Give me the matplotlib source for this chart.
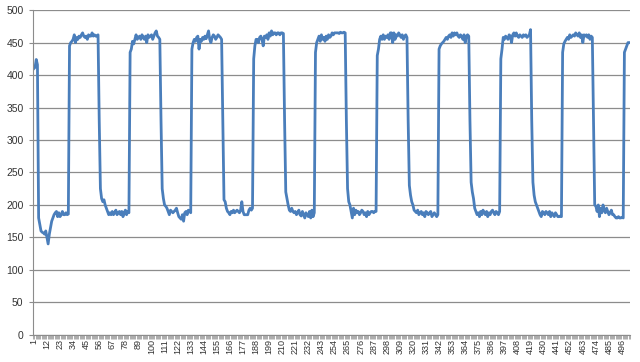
import numpy as np
import matplotlib.pyplot as plt

# readings, one per sample
values = [
    410, 412, 424, 416,
    # low 1
    180, 170, 160, 158, 157, 155, 160, 150, 140, 155, 165, 175, 180, 185, 188, 190,
    182, 188, 182, 185, 190, 185, 185, 188, 185, 186,
    # high 1
    445, 450, 452, 455, 462, 450, 458, 455, 460, 458, 462, 465, 460, 458, 460, 455,
    462, 460, 460, 465, 460, 462, 460, 460, 462,
    # low 2
    330, 225, 210, 205, 208, 200, 195, 190, 185, 188, 185, 190, 185, 188, 192, 185,
    188, 190, 185, 190, 182, 188, 192, 185, 190, 188,
    # high 2
    435, 440, 452, 448, 455, 462, 455, 458, 460, 455, 462, 458, 455, 460, 450, 462,
    458, 460, 462, 455, 460, 465, 468, 460, 458, 455,
    # low 3
    330, 225, 210, 200, 198, 195, 190, 185, 192, 190, 188, 190, 192, 195, 188, 182,
    180, 178, 185, 175, 188, 190, 185, 192, 190, 188,
    # high 3
    440, 450, 455, 452, 458, 460, 440, 455, 452, 458, 455, 460, 456, 462, 468, 455,
    450, 458, 462, 460, 455, 458, 462, 460, 458, 455,
    # low 4
    330, 208, 205, 195, 190, 188, 185, 190, 188, 192, 188, 190, 192, 190, 188, 192,
    205, 190, 185, 185, 185, 185, 192, 195, 192, 195,
    # high 4
    425, 445, 455, 455, 450, 458, 460, 455, 445, 460, 458, 462, 455, 465, 460, 468,
    462, 465, 465, 462, 465, 465, 462, 465, 465, 464,
    # low 5
    330, 220, 210, 200, 192, 190, 195, 190, 188, 190, 185, 188, 192, 185, 183, 190,
    185, 180, 188, 185, 182, 190, 180, 192, 182, 188,
    # high 5
    435, 450, 455, 460, 452, 462, 455, 458, 452, 460, 455, 462, 458, 460, 465, 462,
    465, 465, 465, 465, 464, 466, 465, 465, 466, 465,
    # low 6
    330, 225, 205, 200, 190, 180, 195, 185, 192, 188, 190, 185, 188, 192, 190, 185,
    188, 182, 190, 185, 188, 190, 190, 188, 190, 190,
    # high 6
    430, 440, 455, 460, 455, 462, 455, 460, 458, 462, 455, 465, 465, 450, 465, 455,
    462, 460, 465, 462, 458, 462, 455, 460, 462, 458,
    # low 7
    330, 230, 215, 205, 200, 192, 190, 188, 192, 185, 188, 190, 185, 188, 182, 190,
    188, 185, 188, 190, 182, 185, 188, 185, 182, 185,
    # high 7
    440, 445, 448, 450, 452, 455, 458, 455, 460, 462, 458, 465, 460, 465, 462, 465,
    460, 458, 462, 460, 455, 462, 450, 460, 462, 460,
    # low 8
    330, 235, 220, 210, 195, 190, 185, 188, 182, 190, 185, 192, 188, 185, 190, 182,
    188, 185, 190, 192, 188, 185, 190, 188, 185, 190,
    # high 8
    425, 440, 458, 455, 460, 458, 455, 462, 460, 450, 462, 465, 460, 465, 460, 458,
    462, 460, 458, 462, 460, 462, 458, 460, 462, 470,
    # low 9
    330, 235, 215, 205, 200, 195, 190, 185, 182, 190, 188, 185, 190, 188, 185, 190,
    182, 188, 185, 182, 188, 185, 182, 182, 183, 182,
    # high 9
    435, 448, 452, 455, 458, 455, 462, 458, 460, 462, 460, 465, 462, 460, 465, 458,
    462, 450, 462, 460, 462, 458, 462, 455, 460, 458,
    # low 10
    330, 200, 198, 190, 200, 182, 195, 188, 200, 192, 188, 195, 190, 185, 188, 192,
    185, 185, 182, 180, 180, 182, 180, 180, 181, 180,
    # last rise
    435, 440, 445, 450, 450,
]

n = len(values)
categories = np.arange(1, n + 1)
label_positions = list(range(1, n + 1, 11))
y_ticks = list(range(0, 501, 50))

fig = plt.figure(figsize=(6.4, 3.62), dpi=100)
ax = fig.add_axes([0.052, 0.075, 0.932, 0.897])

ax.plot(categories, values, color='#4a7ebb', lw=2.0, solid_joinstyle='round')

ax.set_xlim(0.5, n + 0.5)
ax.set_ylim(0, 500)
ax.set_yticks(y_ticks)
ax.set_xticks(label_positions)
ax.set_xticklabels([str(p) for p in label_positions], rotation=90,
                   fontsize=6.5, family='Liberation Sans', color='#333333')
ax.set_xticks(np.arange(0.5, n + 1, 1), minor=True)
for lab in ax.get_yticklabels():
    lab.set_family('Liberation Sans')
    lab.set_fontsize(7.5)
    lab.set_color('#333333')

ax.grid(axis='y', color='#8c8c8c', lw=0.9)
ax.set_axisbelow(True)
ax.tick_params(axis='x', which='major', length=0, pad=3)
ax.tick_params(axis='x', which='minor', length=3, width=0.5, color='#8c8c8c')
ax.tick_params(axis='y', length=3, color='#8c8c8c', pad=4)

for side in ['top', 'right']:
    ax.spines[side].set_visible(False)
for side in ['left', 'bottom']:
    ax.spines[side].set_color('#8c8c8c')

fig.savefig('out.png', dpi=100)
